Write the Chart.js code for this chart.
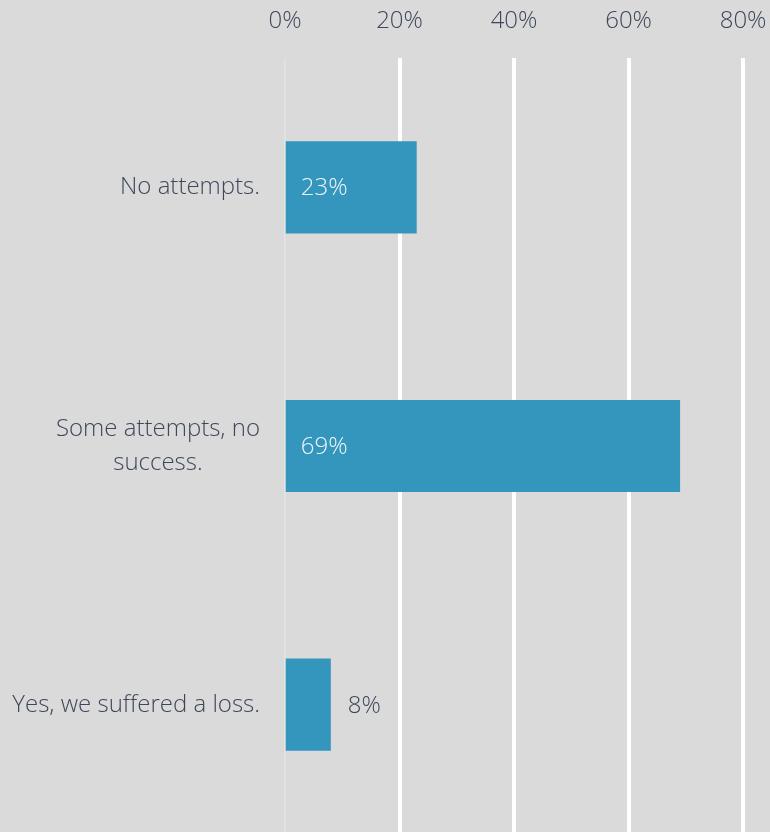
<!DOCTYPE html>
<html>
<head>
<meta charset="utf-8">
<script src="https://cdn.jsdelivr.net/npm/chart.js@4/dist/chart.umd.min.js"></script>
<style>
  html, body { margin: 0; padding: 0; background: #dadada; overflow: hidden; }
  #wrap { width: 770px; height: 834px; position: relative; }
</style>
</head>
<body>
<div id="wrap"><canvas id="chart"></canvas></div>
<script>
// answers to the question, one bar each
const categories = [
  ['No attempts.'],
  ['Some attempts, no', 'success.'],
  ['Yes, we suffered a loss.']
];
const shares = [23, 69, 8];
const tickValues = [0, 20, 40, 60, 80];

const textColor = '#3e4759';
const barColor = '#3596bd';
const fontFamily = '"Open Sans", "DejaVu Sans", sans-serif';

// y labels drawn by hand so that wrapped lines are centred on each other
const categoryLabels = {
  id: 'categoryLabels',
  afterDraw(chart) {
    const { ctx, scales: { y } } = chart;
    ctx.save();
    ctx.font = '300 24px ' + fontFamily;
    ctx.fillStyle = textColor;
    ctx.textAlign = 'center';
    ctx.textBaseline = 'middle';
    const right = y.right - 25;
    const lineHeight = 34;
    categories.forEach((lines, i) => {
      const cy = y.getPixelForTick(i);
      const blockW = Math.max(...lines.map(l => ctx.measureText(l).width));
      const cx = right - blockW / 2;
      const top = cy - (lines.length - 1) * lineHeight / 2;
      lines.forEach((l, j) => ctx.fillText(l, cx, top + j * lineHeight));
    });
    ctx.restore();
  }
};

// value labels: inside the bar when it is wide enough, else just after it
const valueLabels = {
  id: 'valueLabels',
  afterDatasetsDraw(chart) {
    const { ctx } = chart;
    const meta = chart.getDatasetMeta(0);
    ctx.save();
    ctx.font = '300 24px ' + fontFamily;
    ctx.textAlign = 'left';
    ctx.textBaseline = 'middle';
    meta.data.forEach((bar, i) => {
      const text = shares[i] + '%';
      const w = bar.x - bar.base;
      if (w > 70) {
        ctx.fillStyle = '#f0f5f9';
        ctx.fillText(text, bar.base + 15, bar.y + 1);
      } else {
        ctx.fillStyle = textColor;
        ctx.fillText(text, bar.x + 17, bar.y + 1);
      }
    });
    ctx.restore();
  }
};

new Chart(document.getElementById('chart'), {
  type: 'bar',
  data: {
    labels: categories,
    datasets: [{
      data: shares,
      backgroundColor: barColor,
      borderWidth: 0,
      categoryPercentage: 1,
      barPercentage: 0.356
    }]
  },
  options: {
    indexAxis: 'y',
    responsive: true,
    maintainAspectRatio: false,
    animation: false,
    layout: { padding: 0 },
    plugins: {
      legend: { display: false },
      tooltip: { enabled: false }
    },
    scales: {
      x: {
        position: 'top',
        min: 0,
        max: 84.7,
        afterBuildTicks: (scale) => {
          scale.ticks = tickValues.map(v => ({ value: v }));
        },
        afterFit: (scale) => {
          scale.paddingLeft = 0;
          scale.paddingRight = 0;
          scale.height = 58;
        },
        ticks: {
          includeBounds: false,
          color: textColor,
          padding: 22,
          font: { family: fontFamily, size: 24, weight: '300' },
          callback: (v) => v + '%'
        },
        grid: {
          drawTicks: false,
          color: (c) => c.tick && c.tick.value === 0 ? '#e3e3e3' : '#ffffff',
          lineWidth: (c) => c.tick && c.tick.value === 0 ? 1.5 : 4
        },
        border: { display: false }
      },
      y: {
        ticks: { display: false },
        grid: { display: false },
        border: { display: false },
        afterFit: (scale) => { scale.width = 285; }
      }
    }
  },
  plugins: [categoryLabels, valueLabels]
});
</script>
</body>
</html>
